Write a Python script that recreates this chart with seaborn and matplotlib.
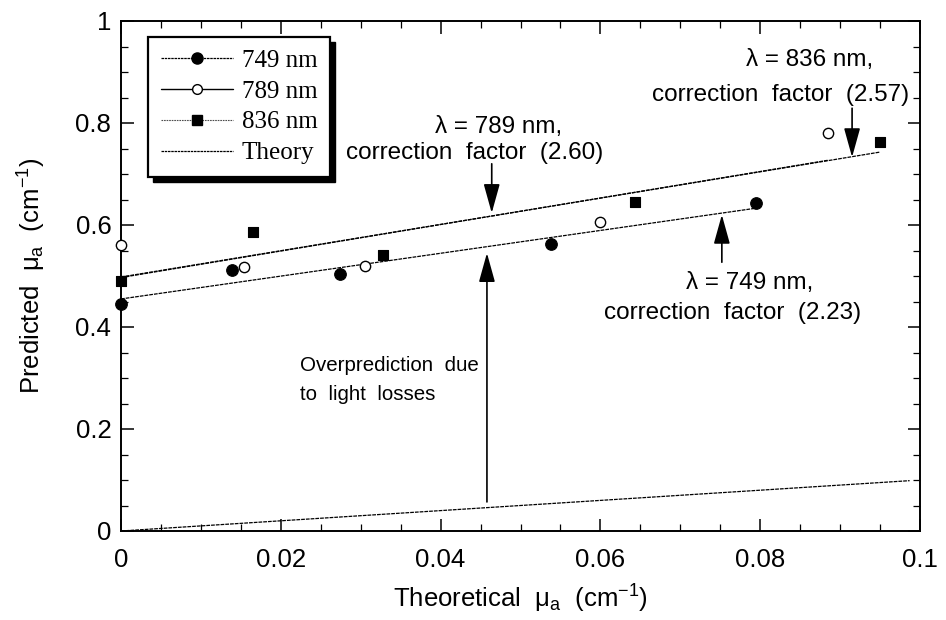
import numpy as np
import pandas as pd
import seaborn as sns
import matplotlib
matplotlib.use("Agg")
import matplotlib.pyplot as plt
from matplotlib.lines import Line2D
from matplotlib.patches import Rectangle
from matplotlib.ticker import MultipleLocator, FuncFormatter

# ---- data ----
x_749 = [0.0, 0.0139, 0.0274, 0.0538, 0.0795]
y_749 = [0.445, 0.512, 0.504, 0.563, 0.643]
x_789 = [0.0, 0.0154, 0.0305, 0.0599, 0.0885]
y_789 = [0.561, 0.518, 0.520, 0.606, 0.780]
x_836 = [0.0, 0.0165, 0.0328, 0.0643, 0.0950]
y_836 = [0.490, 0.586, 0.541, 0.645, 0.763]

fit_x_749 = [0.0, 0.0795]
fit_y_749 = [0.455, 0.633]
fit_x_789 = [0.0, 0.0885]
fit_y_789 = [0.497, 0.727]
fit_x_836 = [0.0, 0.0950]
fit_y_836 = [0.498, 0.743]
theory_x = [0.0, 0.0987]
theory_y = [0.0, 0.0987]

legend_labels = ["749 nm", "789 nm", "836 nm", "Theory"]

sns.set_style("ticks")
plt.rcParams["font.family"] = ["Liberation Sans", "DejaVu Sans"]
plt.rcParams["mathtext.fontset"] = "custom"
plt.rcParams["mathtext.rm"] = "Liberation Sans"
plt.rcParams["mathtext.it"] = "Liberation Sans"
for k in ["text.color", "axes.labelcolor", "xtick.color", "ytick.color", "axes.edgecolor"]:
    plt.rcParams[k] = "black"

fig = plt.figure(figsize=(9.46, 6.2), dpi=100)
ax = fig.add_axes([121 / 946, 89 / 620, 799 / 946, 510 / 620])
ax.patch.set_alpha(0)

fitstyle = dict(color="black", lw=0.9, dashes=(3, 0.8))
sns.lineplot(x=theory_x, y=theory_y, ax=ax, estimator=None, sort=False, **fitstyle)
sns.lineplot(x=fit_x_749, y=fit_y_749, ax=ax, estimator=None, sort=False, **fitstyle)
sns.lineplot(x=fit_x_789, y=fit_y_789, ax=ax, estimator=None, sort=False, **fitstyle)
sns.lineplot(x=fit_x_836, y=fit_y_836, ax=ax, estimator=None, sort=False, **fitstyle)

sns.scatterplot(x=x_749, y=y_749, ax=ax, marker="o", s=70, color="black",
                edgecolor="black", linewidth=0.8, clip_on=False, zorder=4)
sns.scatterplot(x=x_789, y=y_789, ax=ax, marker="o", s=55, color="white",
                edgecolor="black", linewidth=1.0, clip_on=False, zorder=4)
sns.scatterplot(x=x_836, y=y_836, ax=ax, marker="s", s=55, color="black",
                edgecolor="black", linewidth=0.8, clip_on=False, zorder=4)

ax.set_xlim(0, 0.1)
ax.set_ylim(0, 1)
ax.xaxis.set_major_locator(MultipleLocator(0.02))
ax.xaxis.set_minor_locator(MultipleLocator(0.005))
ax.yaxis.set_major_locator(MultipleLocator(0.2))
ax.yaxis.set_minor_locator(MultipleLocator(0.05))
fmt = FuncFormatter(lambda v, p: f"{v:g}")
ax.xaxis.set_major_formatter(fmt)
ax.yaxis.set_major_formatter(fmt)

for s in ax.spines.values():
    s.set_linewidth(1.4)
    s.set_color("black")
    s.set_visible(True)
ax.tick_params(which="both", direction="in", top=True, right=True, colors="black")
ax.tick_params(which="major", length=9, width=1.1, labelsize=18.5)
ax.tick_params(which="minor", length=5, width=0.9)
ax.tick_params(axis="x", which="major", pad=12)
ax.tick_params(axis="y", which="major", pad=7)

ax.set_xlabel(r"Theoretical  $\mu_a$  (cm$^{-1}$)", fontsize=18.5, labelpad=8)
ax.set_ylabel(r"Predicted  $\mu_a$  (cm$^{-1}$)", fontsize=18.5, labelpad=20)

# annotations
tfs = 17.5
ax.text(0.0473, 0.792, "λ = 789 nm,", fontsize=tfs, ha="center", va="center")
ax.text(0.0442, 0.741, "correction  factor  (2.60)", fontsize=tfs, ha="center", va="center")
ax.text(0.0862, 0.924, "λ = 836 nm,", fontsize=tfs, ha="center", va="center")
ax.text(0.0825, 0.855, "correction  factor  (2.57)", fontsize=tfs, ha="center", va="center")
ax.text(0.0787, 0.486, "λ = 749 nm,", fontsize=tfs, ha="center", va="center")
ax.text(0.0765, 0.427, "correction  factor  (2.23)", fontsize=tfs, ha="center", va="center")
ax.text(0.0224, 0.325, "Overprediction  due", fontsize=14.8, ha="left", va="center")
ax.text(0.0224, 0.267, "to  light  losses", fontsize=14.8, ha="left", va="center")

ap = dict(arrowstyle="-|>,head_length=0.9,head_width=0.25", color="black",
          lw=1.2, shrinkA=0, shrinkB=0, mutation_scale=20)
ax.annotate("", xy=(0.0458, 0.545), xytext=(0.0458, 0.057), arrowprops=ap)
ax.annotate("", xy=(0.0464, 0.6235), xytext=(0.0464, 0.72), arrowprops=ap)
ax.annotate("", xy=(0.0915, 0.733), xytext=(0.0915, 0.829), arrowprops=ap)
ax.annotate("", xy=(0.0752, 0.620), xytext=(0.0752, 0.527), arrowprops=ap)

# legend
handles = [
    Line2D([], [], color="black", lw=0.9, dashes=(2, 0.6), marker="o", ms=8,
           mfc="black", mec="black"),
    Line2D([], [], color="black", lw=1.0, marker="o", ms=7, mfc="white", mec="black"),
    Line2D([], [], color="0.3", lw=0.8, dashes=(1.5, 0.8), marker="s", ms=7,
           mfc="black", mec="black"),
    Line2D([], [], color="black", lw=0.9, dashes=(2, 0.6)),
]
leg = ax.legend(handles, legend_labels, loc="upper left",
                bbox_to_anchor=((148 - 121) / 799, (531 - 37) / 510),
                borderaxespad=0, frameon=True, fancybox=False,
                prop={"family": "Liberation Serif", "size": 18},
                handlelength=2.9, handletextpad=0.35, labelspacing=0.33,
                borderpad=0.5, edgecolor="black")
leg.get_frame().set_linewidth(1.6)
leg.get_frame().set_facecolor("white")
leg.get_frame().set_alpha(1)
for t in leg.get_texts():
    t.set_color("black")

fig.canvas.draw()
bb = leg.get_window_extent(fig.canvas.get_renderer())
fig.add_artist(Rectangle((bb.x0 + 5, bb.y0 - 5), bb.width, bb.height,
                         transform=None, facecolor="black", edgecolor="black",
                         zorder=-1))

fig.savefig("out.png", dpi=100, facecolor="white")
